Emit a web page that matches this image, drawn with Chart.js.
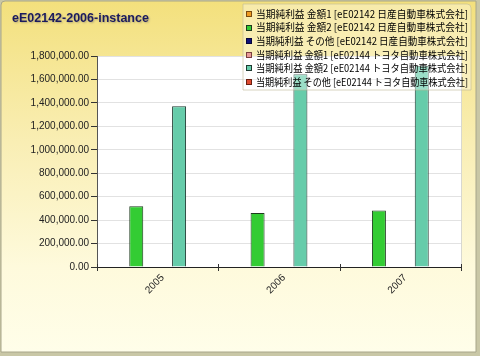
<!DOCTYPE html>
<html>
<head>
<meta charset="utf-8">
<script src="https://cdn.jsdelivr.net/npm/chart.js@4.4.0/dist/chart.umd.min.js"></script>
<style>
html,body{margin:0;padding:0;background:#fff;}
#c{display:block;}
</style>
</head>
<body>
<canvas id="c" width="480" height="356"></canvas>
<script>
const chartTitle = "eE02142-2006-instance";
const categories = ["2005", "2006", "2007"];
const seriesLabels = [
  "当期純利益 金額1 [eE02142 日産自動車株式会社]",
  "当期純利益 金額2 [eE02142 日産自動車株式会社]",
  "当期純利益 その他 [eE02142 日産自動車株式会社]",
  "当期純利益 金額1 [eE02144 トヨタ自動車株式会社]",
  "当期純利益 金額2 [eE02144 トヨタ自動車株式会社]",
  "当期純利益 その他 [eE02144 トヨタ自動車株式会社]"
];
const nissanAmount1 = [null, null, null];
const nissanAmount2 = [518050, 460796, 482261];
const nissanOther = [null, null, null];
const toyotaAmount1 = [null, null, null];
const toyotaAmount2 = [1372180, 1644032, 1717879];
const toyotaOther = [null, null, null];
const yTicks = [0, 200000, 400000, 600000, 800000, 1000000, 1200000, 1400000, 1600000, 1800000];

const seriesValues = [nissanAmount1, nissanAmount2, nissanOther, toyotaAmount1, toyotaAmount2, toyotaOther];
const fills = ["#EE9A22", "#33CC33", "#10107A", "#E89A9A", "#66CCAA", "#E04A30"];
const borders = ["#7A4A10", "#1E3A1E", "#05053A", "#7A4040", "#1E3A30", "#6A2010"];

const bgPlugin = {
  id: 'bg',
  beforeDraw(chart) {
    const ctx = chart.ctx, W = chart.width, H = chart.height;
    ctx.save();
    ctx.fillStyle = '#C9C7A6';
    ctx.fillRect(0, 0, W, H);
    const g = ctx.createLinearGradient(0, 0, 0, H);
    g.addColorStop(0, '#F3E07C');
    g.addColorStop(0.4, '#F9EEB4');
    g.addColorStop(0.75, '#FEFADC');
    g.addColorStop(1, '#FFFEEA');
    ctx.fillStyle = g;
    ctx.beginPath();
    const r = 4, x0 = 1, y0 = 1, x1 = W - 4, y1 = H - 4;
    ctx.moveTo(x0 + r, y0);
    ctx.lineTo(x1, y0);
    ctx.lineTo(x1, y1);
    ctx.lineTo(x0, y1);
    ctx.lineTo(x0, y0 + r);
    ctx.quadraticCurveTo(x0, y0, x0 + r, y0);
    ctx.closePath();
    ctx.fill();
    ctx.strokeStyle = '#A8A68A';
    ctx.lineWidth = 1;
    ctx.stroke();
    const a = chart.chartArea;
    ctx.fillStyle = '#FFFFFF';
    ctx.fillRect(a.left, a.top, a.right - a.left, a.bottom - a.top);
    ctx.strokeStyle = '#D8D8D0';
    ctx.beginPath();
    ctx.moveTo(a.right + 0.5, a.top);
    ctx.lineTo(a.right + 0.5, a.bottom);
    ctx.stroke();
    ctx.font = 'bold 12.5px "Liberation Sans", Arial, sans-serif';
    ctx.fillStyle = '#1B1B5E';
    ctx.shadowColor = 'rgba(60,60,90,0.35)';
    ctx.shadowBlur = 2;
    ctx.shadowOffsetX = 1;
    ctx.shadowOffsetY = 1;
    ctx.textBaseline = 'alphabetic';
    ctx.fillText(chartTitle, 12, 22);
    ctx.restore();
  },
  afterDraw(chart) {
    const ctx = chart.ctx;
    ctx.save();
    const a = chart.chartArea;
    ctx.strokeStyle = '#333';
    ctx.lineWidth = 1;
    const n = categories.length;
    for (let i = 0; i <= n; i++) {
      const x = Math.round(a.left + (a.right - a.left) * i / n) + 0.5;
      ctx.beginPath();
      ctx.moveTo(x, a.bottom - 3);
      ctx.lineTo(x, a.bottom + 4);
      ctx.stroke();
    }
    const lx = 243, ly = 4, lw = 228, lh = 86;
    ctx.fillStyle = 'rgba(255,255,255,0.35)';
    ctx.beginPath();
    ctx.moveTo(lx, ly);
    ctx.lineTo(lx + lw - 4, ly);
    ctx.quadraticCurveTo(lx + lw, ly, lx + lw, ly + 4);
    ctx.lineTo(lx + lw, ly + lh);
    ctx.lineTo(lx, ly + lh);
    ctx.closePath();
    ctx.fill();
    ctx.strokeStyle = 'rgba(190,185,150,0.6)';
    ctx.stroke();
    ctx.font = '10px "Noto Sans CJK JP", sans-serif';
    ctx.textBaseline = 'middle';
    chart.data.datasets.forEach((ds, i) => {
      const cy = 14 + i * 13.6;
      ctx.fillStyle = ds.backgroundColor;
      ctx.fillRect(246, Math.round(cy - 3), 6, 6);
      ctx.strokeStyle = ds.borderColor;
      ctx.strokeRect(246.5, Math.round(cy - 3) + 0.5, 5, 5);
      ctx.fillStyle = '#000';
      ctx.fillText(ds.label, 256, cy, 212);
    });
    ctx.restore();
  }
};

new Chart(document.getElementById('c'), {
  type: 'bar',
  data: {
    labels: categories,
    datasets: seriesValues.map((vals, i) => ({
      label: seriesLabels[i],
      data: vals,
      backgroundColor: fills[i],
      borderColor: borders[i],
      borderWidth: 1,
      categoryPercentage: 0.706,
      barPercentage: 0.98
    }))
  },
  options: {
    responsive: false,
    animation: false,
    layout: { padding: { left: 0, top: 56, right: 19, bottom: 0 } },
    plugins: { legend: { display: false }, title: { display: false }, tooltip: { enabled: false } },
    scales: {
      x: {
        afterFit(s) { s.height = 89; },
        grid: { display: false, drawOnChartArea: false },
        border: { color: '#222', width: 1 },
        ticks: {
          minRotation: 45, maxRotation: 45, padding: -3, labelOffset: 5,
          color: '#222',
          font: { family: '"Liberation Sans", Arial, sans-serif', size: 10 }
        }
      },
      y: {
        min: 0, max: 1800000,
        afterFit(s) { s.width = 97; },
        afterBuildTicks(s) { s.ticks = yTicks.map(v => ({ value: v })); },
        grid: { color: '#E2E2E2', tickColor: '#333', tickLength: 6, lineWidth: 1 },
        border: { color: '#555', width: 1 },
        ticks: {
          padding: 2,
          color: '#222',
          font: { family: '"Liberation Sans", Arial, sans-serif', size: 10 },
          callback: v => Number(v).toLocaleString('en-US', { minimumFractionDigits: 2, maximumFractionDigits: 2 })
        }
      }
    }
  },
  plugins: [bgPlugin]
});
</script>
</body>
</html>
